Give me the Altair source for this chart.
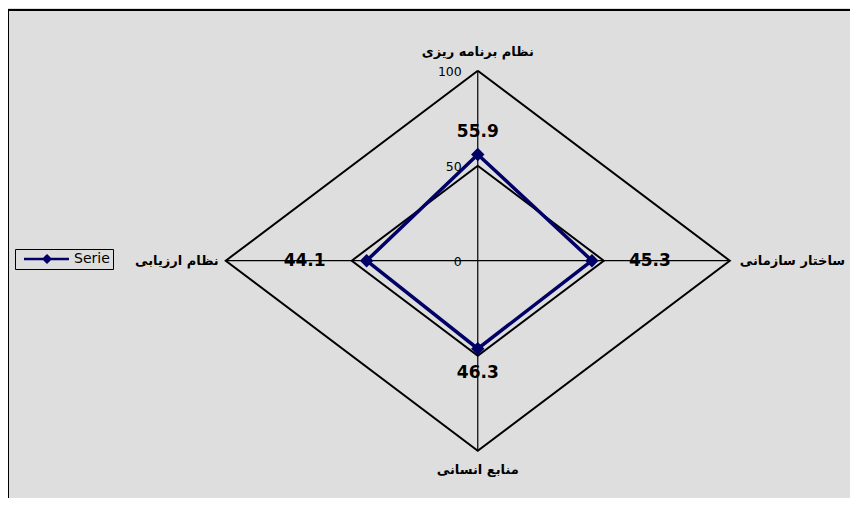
import altair as alt
import pandas as pd
import numpy as np

categories = ["نظام برنامه ریزی", "ساختار سازمانی", "منابع انسانی", "نظام ارزیابی"]
values = [55.9, 45.3, 46.3, 44.1]
value_labels = ["55.9", "45.3", "46.3", "44.1"]
grid_levels = [50, 100]
tick_values = [0, 50, 100]
tick_labels = ["0", "50", "100"]
series_name = "Serie"

n = len(categories)
ang = np.arange(n) * 2 * np.pi / n
sx = np.round(np.sin(ang), 10)
sy = np.round(np.cos(ang), 10)
vals = np.array(values)

pts = pd.DataFrame({"i": range(n), "cat": categories, "v": values, "lab": value_labels,
                    "x": vals * sx, "y": vals * sy, "series": series_name})
closed = pd.concat([pts, pts.iloc[[0]].assign(i=n)], ignore_index=True)
grid = pd.DataFrame([{"level": L, "o": k, "x": L * sx[k % n], "y": L * sy[k % n]}
                     for L in grid_levels for k in range(n + 1)])
spokes = pd.DataFrame({"x": 0.0, "y": 0.0, "x2": 100 * sx, "y2": 100 * sy})
ticks = pd.DataFrame({"lab": tick_labels, "x": [0.0] * len(tick_values),
                      "y": [t * sy[0] for t in tick_values]})
catdf = pd.DataFrame({"i": range(n), "cat": categories, "x": 100 * sx, "y": 100 * sy})

W, H = 842, 490
XS = alt.Scale(domain=[-186.4, 147.7], nice=False, zero=False)
YS = alt.Scale(domain=[-124.9, 133.0], nice=False, zero=False)
X = lambda f="x": alt.X(f"{f}:Q", scale=XS, axis=None)
Y = lambda f="y": alt.Y(f"{f}:Q", scale=YS, axis=None)

FONT = "DejaVu Sans"
NAVY = "#000066"

grid_layer = alt.Chart(grid).mark_line(color="black", strokeWidth=2).encode(
    x=X(), y=Y(), detail="level:N", order="o:Q")

spoke_layer = alt.Chart(spokes).mark_rule(color="black", strokeWidth=1.2).encode(
    x=X(), y=Y(), x2="x2:Q", y2="y2:Q")

series_line = alt.Chart(closed).mark_line(color=NAVY, strokeWidth=3.5).encode(
    x=X(), y=Y(), order="i:Q")

legend_path = ("M-0.17,-0.2H7.33V0.2H-0.17Z "
               "M3.67,-0.85L4.52,0L3.67,0.85L2.82,0Z")

series_pts = alt.Chart(pts).mark_point(shape="diamond", filled=True, size=180, opacity=1).encode(
    x=X(), y=Y(),
    color=alt.Color("series:N", scale=alt.Scale(range=[NAVY]),
                    legend=alt.Legend(title=None, orient="none", legendX=7, legendY=241,
                                      strokeColor="black", fillColor="#dedede", padding=3,
                                      symbolType=legend_path, symbolSize=144, labelOffset=42,
                                      labelFont=FONT, labelFontSize=14, labelColor="black",
                                      symbolOpacity=1)))

def cat_text(idx, **kw):
    return alt.Chart(catdf[catdf.i == idx]).mark_text(
        font=FONT, fontSize=13, fontWeight="bold", color="black", baseline="middle", **kw
    ).encode(x=X(), y=Y(), text="cat:N")

def val_text(idx, **kw):
    return alt.Chart(pts[pts.i == idx]).mark_text(
        font=FONT, fontSize=17, fontWeight="bold", color="black", baseline="middle",
        align="center", **kw
    ).encode(x=X(), y=Y(), text="lab:N")

cat_layers = [
    cat_text(0, align="center", dy=-19),
    cat_text(1, align="left", dx=10),
    cat_text(2, align="center", dy=19),
    cat_text(3, align="right", dx=-7),
]
val_layers = [
    val_text(0, dy=-22),
    val_text(1, dx=58),
    val_text(2, dy=24),
    val_text(3, dx=-62),
]

tick_layer = alt.Chart(ticks).mark_text(
    font=FONT, fontSize=12.5, color="black", align="right", baseline="middle", dx=-16, dy=1
).encode(x=X(), y=Y(), text="lab:N")

border_left = alt.Chart(pts).mark_rule(color="black", strokeWidth=2).encode(
    x=alt.value(0), y=alt.value(2), y2=alt.value(H))
border_top = alt.Chart(pts).mark_rule(color="black", strokeWidth=2).encode(
    x=alt.value(0), x2=alt.value(W), y=alt.value(2))

chart = alt.layer(
    border_left, border_top, grid_layer, spoke_layer, series_line, series_pts,
    *cat_layers, *val_layers, tick_layer
).properties(
    width=W, height=H, background="#dedede", padding=0,
    autosize=alt.AutoSizeParams(type="none")
).configure_view(strokeWidth=0)

chart.save("out.html", embed_options={"renderer": "svg", "actions": False})
